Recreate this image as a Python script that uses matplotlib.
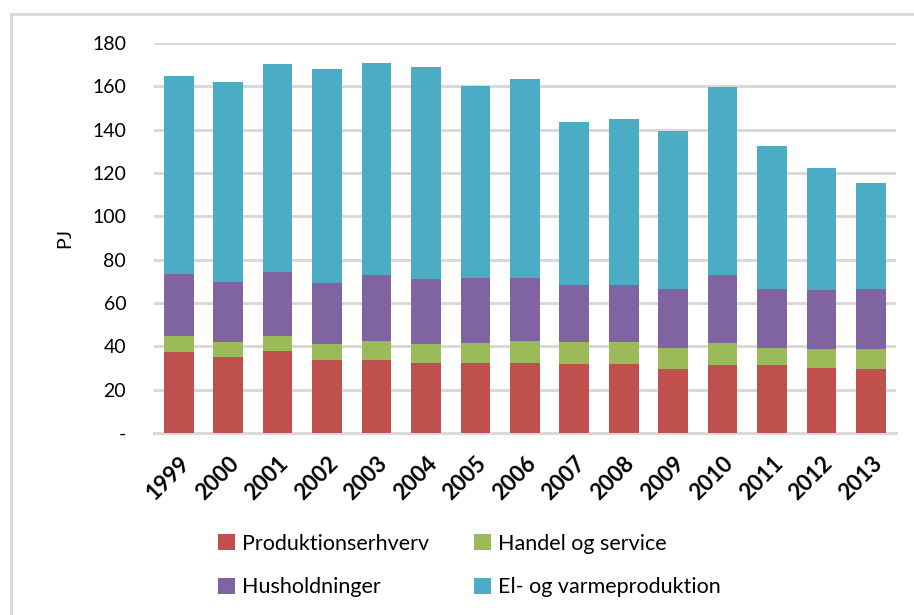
import numpy as np
import matplotlib
matplotlib.use("Agg")
from matplotlib import pyplot as plt
from matplotlib.patches import Rectangle

plt.rcParams['font.family'] = ['Lato', 'DejaVu Sans']

years = ['1999', '2000', '2001', '2002', '2003', '2004', '2005', '2006',
         '2007', '2008', '2009', '2010', '2011', '2012', '2013']
produktion = [37.2, 34.9, 37.7, 33.8, 33.5, 32.1, 32.1, 32.2, 31.8, 31.8, 29.4, 31.5, 31.4, 30.1, 29.7]
handel = [7.4, 7.1, 7.2, 7.4, 9.1, 9.1, 9.6, 10.4, 10.0, 10.0, 10.0, 9.9, 7.8, 8.5, 9.2]
husholdning = [28.9, 27.7, 29.4, 28.2, 30.1, 30.0, 29.7, 28.8, 26.7, 26.5, 26.9, 31.7, 27.3, 27.4, 27.4]
el_varme = [91.5, 92.3, 96.0, 98.7, 97.9, 97.6, 88.9, 92.1, 75.0, 76.6, 73.2, 86.7, 65.8, 56.3, 49.2]

series = [
    ('Produktionserhverv', produktion, '#c0504d'),
    ('Handel og service', handel, '#9bbb59'),
    ('Husholdninger', husholdning, '#8064a2'),
    ('El- og varmeproduktion', el_varme, '#4bacc6'),
]

fig = plt.figure(figsize=(9.14, 6.15), dpi=100)
ax = fig.add_axes([0.1685, 0.296, 0.8115, 0.634])

x = np.arange(len(years))
bottom = np.zeros(len(years))
bars = []
for name, vals, col in series:
    b = ax.bar(x, vals, 0.6, bottom=bottom, color=col, label=name, zorder=3)
    bars.append(b)
    bottom += np.array(vals)

ax.set_xlim(-0.5, len(years) - 0.5)
ax.set_ylim(0, 180)
ax.set_yticks(range(0, 181, 20))
ax.set_yticklabels(['-'] + [str(v) for v in range(20, 181, 20)], fontsize=14)
ax.yaxis.grid(True, color='#d9d9d9', linewidth=2.2, zorder=0)
ax.tick_params(axis='y', length=0, pad=20)
ax.tick_params(axis='x', length=0, pad=14)
ax.set_xticks(x)
ax.set_xticklabels(years, rotation=45, ha='right', rotation_mode='anchor',
                   fontsize=16, fontweight='bold')
for s in ['top', 'right', 'left']:
    ax.spines[s].set_visible(False)
ax.spines['bottom'].set_color('#d9d9d9')
ax.spines['bottom'].set_linewidth(2.2)
ax.set_ylabel('PJ', fontsize=14, labelpad=14)

# legend filled row by row: matplotlib fills columns first, so reorder
order = [0, 2, 1, 3]
fig.legend([bars[i] for i in order], [series[i][0] for i in order], ncol=2,
           loc='center left', bbox_to_anchor=(218 / 914, 0.0805),
           borderpad=0, borderaxespad=0, frameon=False, fontsize=15.5,
           handlelength=0.8, handleheight=0.8, handletextpad=0.3,
           columnspacing=2.1, labelspacing=1.1)

fig.patches.append(Rectangle((11 / 914, -0.1), 1.2, 1 - 14 / 615 + 0.1,
                             transform=fig.transFigure, fill=False,
                             edgecolor='#d9d9d9', linewidth=2))

fig.savefig('out.png', dpi=100)
